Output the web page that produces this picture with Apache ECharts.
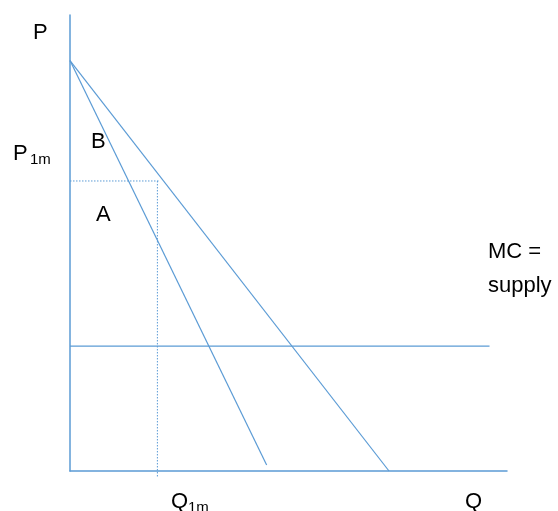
<!DOCTYPE html>
<html>
<head>
<meta charset="utf-8">
<script src="https://cdn.jsdelivr.net/npm/echarts@6/dist/echarts.min.js"></script>
<style>
  html, body { margin: 0; padding: 0; background: #fff; }
  #chart { width: 558px; height: 511px; }
</style>
</head>
<body>
<div id="chart"></div>
<script>
// curves, in axis units (0..100 on both axes)
const demandLine = [[0, 90], [73, 0]];
const mrLine = [[0, 90], [45, 1.3]];
const mcLine = [[0, 27.4], [96, 27.4]];
const p1mGuide = [[0, 63.6], [20.4, 63.6]];
const q1mGuide = [[20, 63.6], [20, -1.2]];

const blue = '#5b9bd5';
const font = '"Liberation Sans", Arial, sans-serif';

const chart = echarts.init(document.getElementById('chart'), null, { renderer: 'canvas' });

function lineSeries(data, dotted) {
  return {
    type: 'line',
    data: data,
    symbol: 'none',
    clip: false,
    silent: true,
    lineStyle: {
      color: dotted ? '#5b9bd5' : blue,
      width: dotted ? 1 : 1.2,
      type: dotted ? [1.5, 1.5] : 'solid'
    }
  };
}

// text labels placed as on the original sketch
function txt(x, y, text, size) {
  return {
    type: 'text',
    x: x,
    y: y,
    style: {
      text: text,
      fill: '#000',
      font: size + 'px ' + font,
      textVerticalAlign: 'bottom'
    }
  };
}

const option = {
  backgroundColor: '#fff',
  animation: false,
  grid: { left: 70, right: 51, top: 15, bottom: 40 },
  xAxis: {
    type: 'value',
    min: 0,
    max: 100,
    axisLine: { show: true, onZero: false, lineStyle: { color: blue, width: 1.5 } },
    axisTick: { show: false },
    axisLabel: { show: false },
    splitLine: { show: false }
  },
  yAxis: {
    type: 'value',
    min: 0,
    max: 100,
    axisLine: { show: true, onZero: false, lineStyle: { color: blue, width: 1.5 } },
    axisTick: { show: false },
    axisLabel: { show: false },
    splitLine: { show: false }
  },
  series: [
    lineSeries(demandLine, false),
    lineSeries(mrLine, false),
    lineSeries(mcLine, false),
    lineSeries(p1mGuide, true),
    lineSeries(q1mGuide, true)
  ],
  graphic: [
    txt(33, 44, 'P', 22),
    txt(13, 165, 'P', 22),
    txt(30, 167, '1m', 15),
    txt(91, 153, 'B', 22),
    txt(96, 226, 'A', 22),
    txt(488, 263, 'MC =', 22),
    txt(488, 297, 'supply', 22),
    txt(171, 513, 'Q', 22),
    txt(188, 515, '1m', 15),
    txt(465, 513, 'Q', 22)
  ]
};

chart.setOption(option);
</script>
</body>
</html>
